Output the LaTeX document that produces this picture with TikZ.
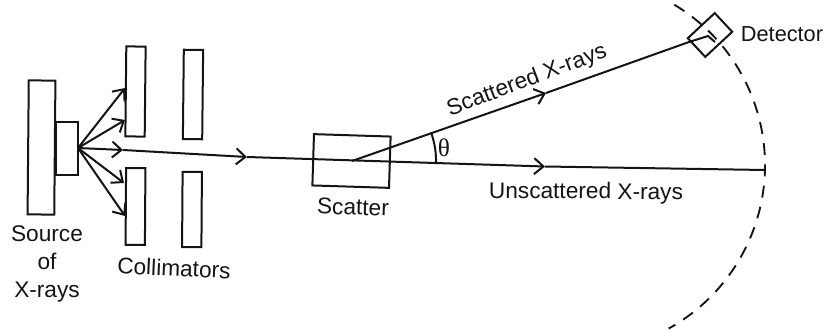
\documentclass[tikz,border=0pt]{standalone}
\usepackage{fontspec}
\setmainfont{Liberation Sans}
\newfontfamily\thetafont{Liberation Serif}
\usetikzlibrary{arrows.meta,calc}
\definecolor{ink}{gray}{0.08}
\tikzset{
  px/.style={x=0.75pt,y=-0.75pt},
  part/.style={draw=ink,line width=1.5pt,inner sep=0pt,outer sep=0pt},
  ray/.style={draw=ink,line width=1.5pt},
  rayhead/.style={ray,-{Straight Barb[length=7pt,width=12pt,line width=1.5pt]}},
  lab/.style={text=ink,font=\fontsize{17}{20}\selectfont,inner sep=0pt,align=center}
}
\begin{document}
\begin{tikzpicture}[px]
\useasboundingbox (0,0) rectangle (826,332);
% source and collimators
\node[part,minimum width=20pt,minimum height=100.5pt,rotate=-0.5] (src) at (41.5,147.5) {};
\node[part,minimum width=16pt,minimum height=39.5pt] (tube) at (67,148.5) {};
\node[part,minimum width=14.5pt,minimum height=67.5pt,rotate=-0.6] (c1) at (135.5,91.5) {};
\node[part,minimum width=14.5pt,minimum height=67pt,rotate=-0.6] (c2) at (193,94.5) {};
\node[part,minimum width=14.5pt,minimum height=57.5pt,rotate=-0.4] (c3) at (135.5,206.5) {};
\node[part,minimum width=14.5pt,minimum height=56.5pt,rotate=-0.4] (c4) at (192,209.5) {};
\node[part,minimum width=57.5pt,minimum height=38.5pt,rotate=-1.8] (scat) at (351.5,161) {};
\node[part,minimum width=27.6pt,minimum height=19.2pt,rotate=43] (det) at (710,35) {};
% points on the beams
\coordinate (o) at (78,148);
\coordinate (a1) at (125,88);
\coordinate (a2) at (125,120);
\coordinate (a3) at (123,150);
\coordinate (a4) at (124,183);
\coordinate (a5) at (125,216);
\coordinate (m1) at (247,157);
\coordinate (m2) at (545,166.5);
\coordinate (hit) at (765,170);
\coordinate (s0) at (352,161);
\coordinate (m3) at (546,93);
\coordinate (dl) at (689,42);
\coordinate (d0) at (708,36);
\coordinate (d1) at (715,42);
% fan of rays
\draw[rayhead] (o) -- (a1);
\draw[rayhead] (o) -- (a2);
\draw[rayhead] (o) -- (a4);
\draw[rayhead] (o) -- (a5);
% main beam
\draw[ray] (m2) -- (hit);
\draw[rayhead] (o) -- (a3);
\draw[rayhead] (a3) -- (m1);
\draw[rayhead] (m1) -- (m2);
% scattered beam
\draw[ray] (m3) -- (dl) -- (d0) -- (d1);
\draw[rayhead] (s0) -- (m3);
% circle
\draw[ray,line width=1.4pt,dash pattern=on 9pt off 7pt]
  (578,165) ++(-59:187) arc[start angle=-59,end angle=61,radius=187];
% angle
\draw[ray] ($(s0)+(84,3)$) arc[start angle=2,end angle=-20,radius=84];
% labels
\node[lab] (l1) at (47,264) {Source\\[1pt]of\\[1pt]X-rays};
\node[lab,rotate=-2.5] (l2) at (174,268) {Collimators};
\node[lab,rotate=-2] (l3) at (353,207) {Scatter};
\node[lab,rotate=-0.5] (l4) at (586,193) {Unscattered X-rays};
\node[lab,rotate=20.5] (l5) at (527,81) {Scattered X-rays};
\node[lab,font=\fontsize{16.3}{20}\selectfont] (l6) at (782,34) {Detector};
\node[lab,font=\fontsize{19}{20}\selectfont\thetafont] (l7) at (444,148) {θ};
\end{tikzpicture}
\end{document}
